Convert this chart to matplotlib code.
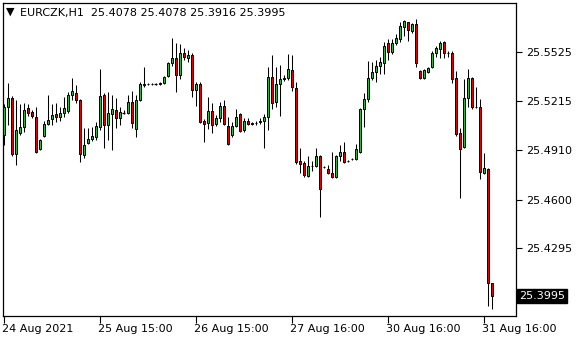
import matplotlib
matplotlib.use("Agg")
import matplotlib.pyplot as plt
import matplotlib.transforms as mtransforms
import numpy as np

symbol = "EURCZK,H1"

opens = [25.5005, 25.5181, 25.5237, 25.4886, 25.5018, 25.5055, 25.5174, 25.5149, 25.5118, 25.4917,
         25.4999, 25.5074, 25.5105, 25.5137, 25.5118, 25.5143, 25.5155, 25.5256, 25.5268, 25.5224,
         25.4880, 25.4955, 25.4980, 25.4993, 25.5055, 25.5256, 25.5068, 25.5137, 25.5162, 25.5112,
         25.5143, 25.5143, 25.5212, 25.5043, 25.5224, 25.5325, 25.5325, 25.5325, 25.5325, 25.5325,
         25.5331, 25.5375, 25.5456, 25.5488, 25.5381, 25.5519, 25.5488, 25.5506, 25.5287, 25.5325,
         25.5093, 25.5080, 25.5155, 25.5074, 25.5112, 25.5187, 25.5061, 25.5005, 25.5061, 25.5137,
         25.5036, 25.5093, 25.5080, 25.5080, 25.5087, 25.5093, 25.5118, 25.5369, 25.5212, 25.5325,
         25.5362, 25.5362, 25.5412, 25.5300, 25.4842, 25.4830, 25.4748, 25.4811, 25.4811, 25.4874,
         25.4805, 25.4792, 25.4767, 25.4742, 25.4874, 25.4899, 25.4842, 25.4855, 25.4855, 25.4899,
         25.5168, 25.5231, 25.5362, 25.5400, 25.5437, 25.5456, 25.5582, 25.5525, 25.5582, 25.5607,
         25.5682, 25.5713, 25.5657, 25.5701, 25.5406, 25.5362, 25.5400, 25.5431, 25.5519, 25.5544,
         25.5588, 25.5519, 25.5519, 25.5362, 25.5018, 25.4930, 25.5237, 25.5362, 25.5181, 25.5181,
         25.4767, 25.4792, 25.4078]
highs = [25.5199, 25.5331, 25.5250, 25.5224, 25.5199, 25.5206, 25.5199, 25.5162, 25.5181, 25.4980,
         25.5093, 25.5256, 25.5199, 25.5206, 25.5181, 25.5243, 25.5275, 25.5362, 25.5318, 25.5231,
         25.5049, 25.5049, 25.5055, 25.5087, 25.5419, 25.5268, 25.5275, 25.5256, 25.5237, 25.5181,
         25.5162, 25.5256, 25.5281, 25.5256, 25.5337, 25.5431, 25.5331, 25.5331, 25.5331, 25.5337,
         25.5375, 25.5463, 25.5613, 25.5582, 25.5575, 25.5550, 25.5538, 25.5519, 25.5337, 25.5337,
         25.5105, 25.5243, 25.5206, 25.5130, 25.5212, 25.5224, 25.5118, 25.5087, 25.5168, 25.5143,
         25.5112, 25.5112, 25.5087, 25.5093, 25.5112, 25.5137, 25.5431, 25.5506, 25.5431, 25.5444,
         25.5381, 25.5513, 25.5506, 25.5337, 25.4924, 25.4842, 25.4874, 25.4842, 25.4924, 25.4880,
         25.4811, 25.4817, 25.4899, 25.4880, 25.4942, 25.4961, 25.4848, 25.4861, 25.4949, 25.5174,
         25.5268, 25.5469, 25.5463, 25.5475, 25.5494, 25.5588, 25.5607, 25.5607, 25.5638, 25.5713,
         25.5726, 25.5713, 25.5707, 25.5732, 25.5412, 25.5419, 25.5431, 25.5531, 25.5563, 25.5594,
         25.5594, 25.5531, 25.5531, 25.5406, 25.5049, 25.5356, 25.5419, 25.5369, 25.5306, 25.5231,
         25.4892, 25.4798, 25.4078]
lows = [25.4942, 25.5068, 25.4874, 25.4817, 25.5005, 25.5024, 25.5124, 25.5112, 25.4892, 25.4911,
        25.4993, 25.5068, 25.5068, 25.5087, 25.5093, 25.5118, 25.5143, 25.5224, 25.5206, 25.4836,
        25.4861, 25.4949, 25.4968, 25.4974, 25.5036, 25.4924, 25.4974, 25.4911, 25.5049, 25.5068,
        25.5137, 25.5137, 25.5049, 25.4993, 25.5218, 25.5306, 25.5318, 25.5318, 25.5318, 25.5318,
        25.5325, 25.5369, 25.5437, 25.5275, 25.5356, 25.5475, 25.5463, 25.5243, 25.5187, 25.5080,
        25.4961, 25.5043, 25.5018, 25.5061, 25.5087, 25.5068, 25.4942, 25.4993, 25.5055, 25.5024,
        25.5024, 25.5068, 25.5068, 25.5068, 25.5074, 25.4924, 25.5036, 25.5168, 25.5181, 25.5124,
        25.5343, 25.5350, 25.5281, 25.4823, 25.4767, 25.4742, 25.4742, 25.4780, 25.4805, 25.4491,
        25.4798, 25.4761, 25.4736, 25.4736, 25.4842, 25.4830, 25.4836, 25.4848, 25.4848, 25.4892,
        25.5055, 25.5212, 25.5350, 25.5337, 25.5387, 25.5387, 25.5475, 25.5513, 25.5569, 25.5588,
        25.5625, 25.5594, 25.5644, 25.5431, 25.5356, 25.5356, 25.5394, 25.5425, 25.5494, 25.5488,
        25.5488, 25.5494, 25.5331, 25.4999, 25.4610, 25.4924, 25.5181, 25.5168, 25.5174, 25.4729,
        25.4761, 25.3934, 25.3916]
closes = [25.5181, 25.5237, 25.4886, 25.5036, 25.5055, 25.5162, 25.5143, 25.5124, 25.4899, 25.4974,
          25.5074, 25.5099, 25.5130, 25.5118, 25.5143, 25.5174, 25.5256, 25.5281, 25.5224, 25.4886,
          25.4942, 25.4980, 25.4999, 25.5061, 25.5250, 25.5068, 25.5143, 25.5168, 25.5112, 25.5149,
          25.5143, 25.5212, 25.5080, 25.5224, 25.5325, 25.5318, 25.5322, 25.5322, 25.5325, 25.5331,
          25.5369, 25.5456, 25.5488, 25.5381, 25.5519, 25.5494, 25.5506, 25.5287, 25.5325, 25.5087,
          25.5074, 25.5155, 25.5068, 25.5112, 25.5187, 25.5074, 25.4949, 25.5061, 25.5118, 25.5030,
          25.5093, 25.5074, 25.5074, 25.5078, 25.5093, 25.5118, 25.5369, 25.5206, 25.5325, 25.5356,
          25.5356, 25.5419, 25.5306, 25.4836, 25.4823, 25.4754, 25.4811, 25.4808, 25.4874, 25.4667,
          25.4802, 25.4767, 25.4742, 25.4874, 25.4899, 25.4836, 25.4840, 25.4853, 25.4917, 25.5168,
          25.5231, 25.5362, 25.5400, 25.5437, 25.5463, 25.5563, 25.5525, 25.5582, 25.5613, 25.5688,
          25.5719, 25.5663, 25.5701, 25.5456, 25.5362, 25.5412, 25.5425, 25.5519, 25.5550, 25.5582,
          25.5519, 25.5516, 25.5356, 25.5011, 25.4917, 25.5237, 25.5362, 25.5181, 25.5178, 25.4773,
          25.4798, 25.4078, 25.3995]

price_ticks = [25.5525, 25.5215, 25.4910, 25.4600, 25.4295]
time_ticks = [0, 24, 48, 72, 96, 120]
time_labels = ["24 Aug 2021", "25 Aug 15:00", "26 Aug 15:00", "27 Aug 16:00", "30 Aug 16:00", "31 Aug 16:00"]

UP = "#3cb043"
DOWN = "#e00000"

fig = plt.figure(figsize=(5.8, 3.4), dpi=100)
ax = fig.add_axes([3 / 580, 24 / 340, 513 / 580, 313 / 340])

o = np.array(opens)
h = np.array(highs)
l = np.array(lows)
c = np.array(closes)
x = np.arange(len(o))

ax.vlines(x, l, h, color="black", linewidth=0.75, zorder=2)

body = np.abs(c - o)
is_doji = body < 0.00015
up = (c >= o) & ~is_doji
down = (c < o) & ~is_doji
for mask, col in ((up, UP), (down, DOWN)):
    ax.bar(x[mask], body[mask], bottom=np.minimum(o, c)[mask], width=0.5,
           color=col, edgecolor="black", linewidth=0.7, zorder=3)
ax.hlines(o[is_doji], x[is_doji] - 0.4, x[is_doji] + 0.4, color="black", linewidth=0.9, zorder=3)

ax.set_xlim(-0.125, 128.125)
ax.set_ylim(25.3871, 25.5832)

for s in ax.spines.values():
    s.set_color("black")
    s.set_linewidth(0.9)

ax.yaxis.tick_right()
ax.set_yticks(price_ticks)
ax.set_yticklabels([f"{p:.4f}" for p in price_ticks])
ax.tick_params(axis="y", direction="out", length=4, width=0.8, pad=3, labelsize=8, colors="black")

ax.set_xticks(time_ticks)
ax.set_xticklabels(time_labels)
for t in ax.get_xticklabels():
    t.set_horizontalalignment("left")
ax.tick_params(axis="x", direction="out", length=5, width=0.8, pad=1, labelsize=8, colors="black")
offset = mtransforms.ScaledTranslation(-1 / 100, 0, fig.dpi_scale_trans)
for t in ax.get_xticklabels():
    t.set_transform(t.get_transform() + offset)

# current price tag
trans = mtransforms.blended_transform_factory(ax.transAxes, ax.transData)
ax.text(1.006, closes[-1], f"{closes[-1]:.4f}", transform=trans, ha="left", va="center",
        fontsize=8, color="white", clip_on=False,
        bbox=dict(boxstyle="square,pad=0.18", facecolor="black", edgecolor="black"))

# header
fig.text(6 / 580, 1 - 12 / 340, "\u25bc", fontsize=8, va="center", ha="left", color="black")
fig.text(20 / 580, 1 - 13 / 340,
         f"{symbol}  {opens[-1]:.4f} {highs[-1]:.4f} {lows[-1]:.4f} {closes[-1]:.4f}",
         fontsize=8, va="center", ha="left", color="black")

fig.savefig("out.png", dpi=100)
